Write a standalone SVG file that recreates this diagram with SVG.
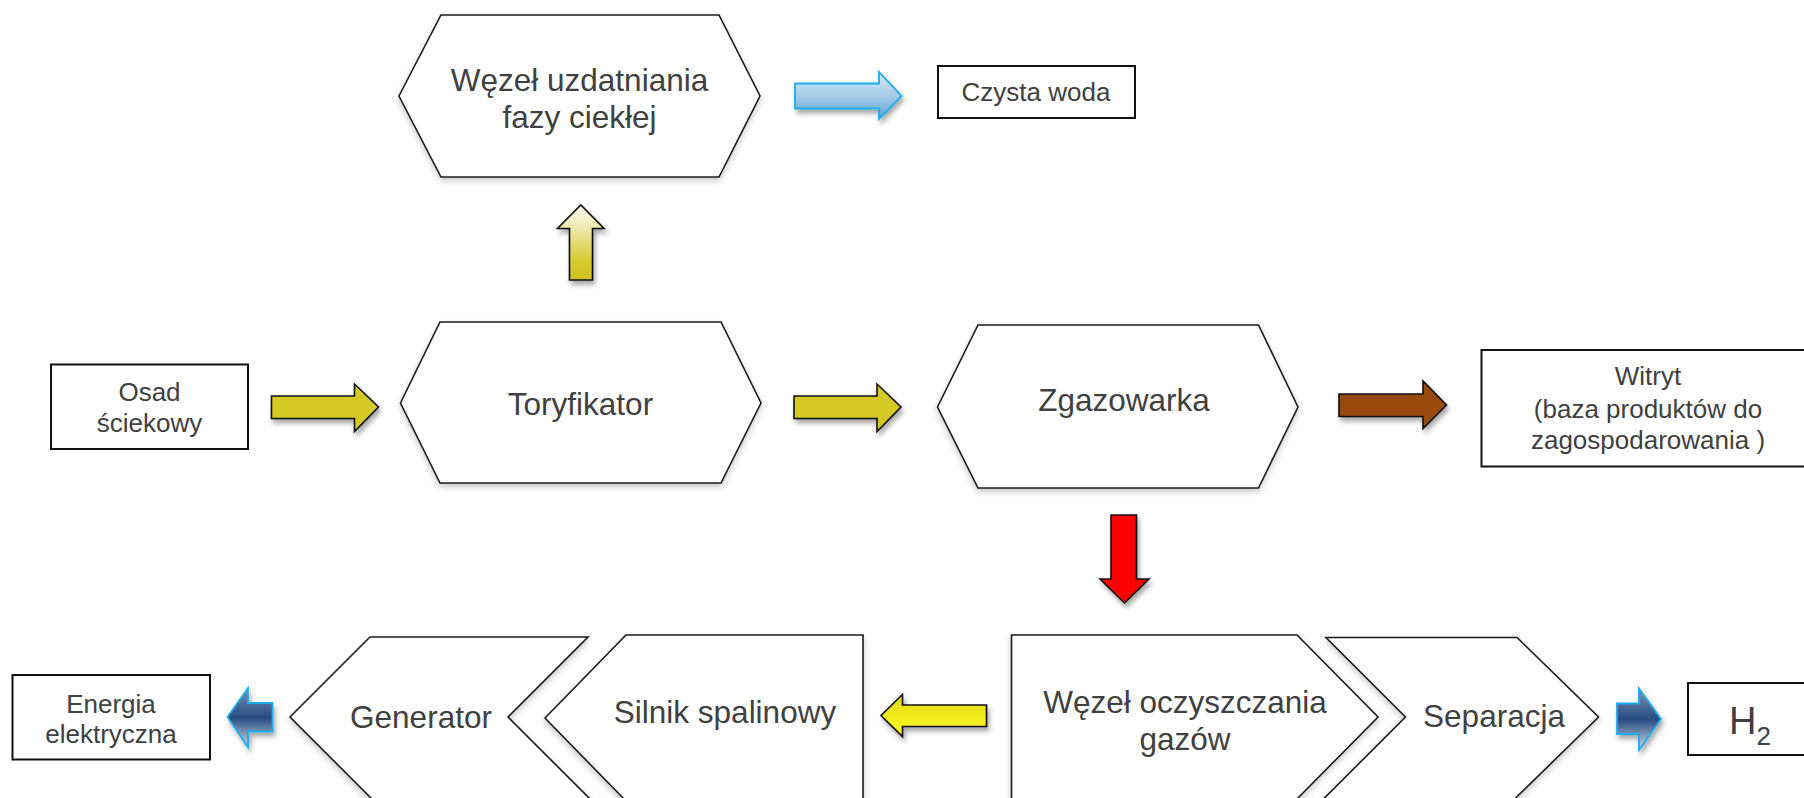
<svg xmlns="http://www.w3.org/2000/svg" width="1804" height="798" viewBox="0 0 1804 798">
<defs>
<style>
.shape{fill:#fff;stroke:#1a1a1a;stroke-width:1.6;filter:url(#soft)}
.box{fill:#fff;stroke:#111;stroke-width:2}
.lbl{font-family:"Liberation Sans",Arial,sans-serif;fill:#404040;text-anchor:middle}
.big{font-size:31.5px}
.sm{font-size:26px}
.arr{stroke:#111;stroke-width:1.6;filter:url(#drop)}
.arrb{stroke:#1badea;stroke-width:1.8;filter:url(#drop)}
</style>
<filter id="drop" x="-30%" y="-30%" width="160%" height="170%">
<feDropShadow dx="2" dy="4" stdDeviation="2.5" flood-color="#000" flood-opacity="0.35"/>
</filter>
<filter id="soft" x="-10%" y="-10%" width="120%" height="130%">
<feDropShadow dx="0" dy="3" stdDeviation="3" flood-color="#000" flood-opacity="0.22"/>
</filter>
<linearGradient id="gLightBlue" x1="0" y1="0" x2="0" y2="1">
<stop offset="0" stop-color="#d6eaf7"/>
<stop offset="0.5" stop-color="#a8cde8"/>
<stop offset="1" stop-color="#5aa2d4"/>
</linearGradient>
<linearGradient id="gUp" x1="0" y1="0" x2="0" y2="1">
<stop offset="0" stop-color="#fdfdf2"/>
<stop offset="0.35" stop-color="#ece6a4"/>
<stop offset="0.75" stop-color="#d6c92c"/>
<stop offset="1" stop-color="#cfc221"/>
</linearGradient>
<linearGradient id="gYellow" x1="0" y1="0" x2="0" y2="1">
<stop offset="0" stop-color="#e2d61c"/>
<stop offset="0.5" stop-color="#f1eb1e"/>
<stop offset="1" stop-color="#fbf822"/>
</linearGradient>
<linearGradient id="gNavy" x1="0" y1="0" x2="0" y2="1">
<stop offset="0" stop-color="#7b95ba"/>
<stop offset="0.5" stop-color="#274b80"/>
<stop offset="1" stop-color="#d2dbe8"/>
</linearGradient>
</defs>

<g id="connectors">
<path id="a-tory-up" class="arr" fill="url(#gUp)" d="M569.5,280 V228.5 H557.5 L580.8,205 L604,228.5 H592.5 V280 Z"/>
<path id="a-water" class="arrb" fill="url(#gLightBlue)" d="M795,83.5 H879 V72 L901.5,96 L879,119 V108.5 H795 Z"/>
<path id="a-osad" class="arr" fill="#d5c928" d="M271.5,396 H354.5 V384 L378.5,407 L354.5,431.5 V418.5 H271.5 Z"/>
<path id="a-tory" class="arr" fill="#d5c928" d="M794,396 H877 V384 L901,407 L877,431.5 V418.5 H794 Z"/>
<path id="a-witryt" class="arr" fill="#984807" d="M1339,394 H1423 V381 L1446.5,405 L1423,428.5 V416.5 H1339 Z"/>
<path id="a-gas" class="arr" fill="#ff0000" d="M1111,515 H1136.5 V579 H1149 L1124.5,603 L1100,579 H1111 Z"/>
<path id="a-engine" class="arr" fill="url(#gYellow)" d="M986.5,705 H902.5 V694.5 L881,715.5 L902.5,736.5 V726.5 H986.5 Z"/>
<path id="a-energy" class="arrb" fill="url(#gNavy)" d="M272.5,703 H248 V688 L227.5,717 L248,747 V731.5 H272.5 Z"/>
<path id="a-h2" class="arrb" fill="url(#gNavy)" d="M1617,703.5 H1639 V688.5 L1661,719 L1639,750 V734 H1617 Z"/>
</g>

<g id="wezel-uzdatniania">
<polygon class="shape" points="399,96 441,15 719,15 760,96 719,177 441,177"/>
<text class="lbl big" x="579.5" y="91">Węzeł uzdatniania</text>
<text class="lbl big" x="579.5" y="128">fazy ciekłej</text>
</g>

<g id="czysta-woda">
<rect class="box" x="938" y="66" width="197" height="52"/>
<text class="lbl sm" x="1036" y="101">Czysta woda</text>
</g>

<g id="osad">
<rect class="box" x="51" y="364.5" width="197" height="84.5"/>
<text class="lbl sm" x="149.5" y="401">Osad</text>
<text class="lbl sm" x="149.5" y="432">ściekowy</text>
</g>

<g id="toryfikator">
<polygon class="shape" points="400.5,403 440,322 721,322 761,403 721,483 440,483"/>
<text class="lbl big" x="580.5" y="415">Toryfikator</text>
</g>

<g id="zgazowarka">
<polygon class="shape" points="937.5,407 978,325 1258.5,325 1298,407 1258.5,488 978,488"/>
<text class="lbl big" x="1124" y="411">Zgazowarka</text>
</g>

<g id="witryt">
<rect class="box" x="1481.5" y="350" width="330" height="116.5"/>
<text class="lbl sm" x="1648" y="385">Witryt</text>
<text class="lbl sm" x="1648" y="417.5">(baza produktów do</text>
<text class="lbl sm" x="1648" y="448.5">zagospodarowania )</text>
</g>

<g id="energia">
<rect class="box" x="12.5" y="675" width="197.5" height="84.5"/>
<text class="lbl sm" x="111" y="712.5">Energia</text>
<text class="lbl sm" x="111" y="743">elektryczna</text>
</g>

<g id="generator">
<polygon class="shape" points="290,717 370,637 588,637 508,717 592,801 374,801"/>
<text class="lbl big" x="421" y="727.5">Generator</text>
</g>

<g id="silnik">
<polygon class="shape" points="545,718 626,635 863,635 863,801 626,801"/>
<text class="lbl big" x="725" y="723">Silnik spalinowy</text>
</g>

<g id="wezel-oczyszczania">
<polygon class="shape" points="1011.5,635 1297,635 1378,717 1295,801 1011.5,801"/>
<text class="lbl big" x="1185" y="713">Węzeł oczyszczania</text>
<text class="lbl big" x="1185" y="750">gazów</text>
</g>

<g id="separacja">
<polygon class="shape" points="1326,637.5 1517,637.5 1598.5,717 1512.5,801 1321.5,801 1405.5,717"/>
<text class="lbl big" x="1494" y="726.5">Separacja</text>
</g>

<g id="h2">
<rect class="box" x="1688" y="683" width="130" height="72"/>
<text class="lbl" x="1729" y="733.5" font-size="38" text-anchor="start" style="text-anchor:start">H<tspan font-size="26" dy="11.5">2</tspan></text>
</g>
</svg>
